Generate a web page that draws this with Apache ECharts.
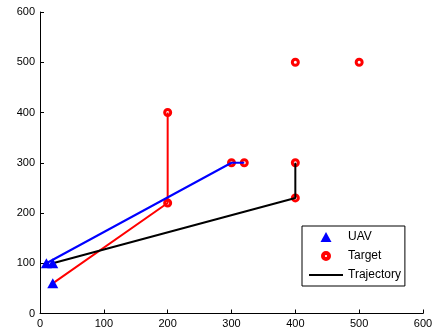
<!DOCTYPE html>
<html><head><meta charset="utf-8">
<script src="https://cdn.jsdelivr.net/npm/echarts@6/dist/echarts.min.js"></script>
<style>html,body{margin:0;padding:0;background:#fff}#c{width:443px;height:335px}</style>
</head><body><div id="c"></div>
<script>
const axisMin = 0, axisMax = 600, axisStep = 100;
const uavX = [10, 20, 20];
const uavY = [100, 100, 60];
const targetX = [200, 200, 300, 320, 400, 400, 400, 500];
const targetY = [400, 220, 300, 300, 300, 230, 500, 500];
const redPathX = [20, 200, 200];
const redPathY = [60, 220, 400];
const bluePathX = [10, 300, 320];
const bluePathY = [100, 300, 300];
const blackPathX = [20, 400, 400];
const blackPathY = [100, 230, 300];
const legendNames = ['UAV', 'Target', 'Trajectory'];

const zip = (xs, ys) => xs.map((x, i) => [x, ys[i]]);
const font = '"Liberation Sans", Arial, Helvetica, sans-serif';

const axisCommon = {
  type: 'value', min: axisMin, max: axisMax, interval: axisStep,
  axisLine: { show: true, onZero: false, lineStyle: { color: '#000', width: 1 } },
  axisTick: { show: true, inside: true, length: 4, lineStyle: { color: '#000' } },
  axisLabel: { color: '#000', fontSize: 11, fontFamily: font, margin: 5 },
  splitLine: { show: false }
};

const ringIcon = 'path://M0.5,5A4.5,4.5,0,1,1,9.5,5A4.5,4.5,0,1,1,0.5,5ZM4,5A1,1,0,1,0,6,5A1,1,0,1,0,4,5Z';
const triIcon = 'path://M5.5,0L11,10L0,10Z';
const lineIcon = 'path://M0,0L34,0L34,2L0,2Z';

const chart = echarts.init(document.getElementById('c'), null, { renderer: 'canvas' });
chart.setOption({
  animation: false,
  backgroundColor: '#fff',
  grid: { left: 40, right: 20, top: 12, bottom: 21.5, containLabel: false },
  xAxis: axisCommon,
  yAxis: axisCommon,
  legend: {
    orient: 'vertical', left: 302, top: 226,
    data: [
      { name: legendNames[0], icon: triIcon, itemStyle: { color: '#0000ff', borderWidth: 0 } },
      { name: legendNames[1], icon: ringIcon, itemStyle: { color: '#ff0000', borderWidth: 0 } },
      { name: legendNames[2], icon: lineIcon, itemStyle: { color: '#000', borderWidth: 0 } }
    ],
    symbolKeepAspect: true,
    backgroundColor: '#fff',
    borderColor: '#000', borderWidth: 1, borderRadius: 0,
    padding: [5, 4, 5, 7],
    itemWidth: 34, itemHeight: 10, itemGap: 7,
    textStyle: { color: '#000', fontSize: 12, fontFamily: font },
    selectedMode: false
  },
  series: [
    {
      name: 'Target', type: 'scatter', z: 2,
      data: zip(targetX, targetY),
      symbol: 'circle', symbolSize: 6,
      itemStyle: { color: '#fff', borderColor: '#ff0000', borderWidth: 3, opacity: 1 }
    },
    {
      name: 'redPath', type: 'line', z: 3, data: zip(redPathX, redPathY),
      showSymbol: false, lineStyle: { color: '#ff0000', width: 2 }, itemStyle: { color: '#ff0000' }
    },
    {
      name: 'bluePath', type: 'line', z: 3, data: zip(bluePathX, bluePathY),
      showSymbol: false, lineStyle: { color: '#0000ff', width: 2 }, itemStyle: { color: '#0000ff' }
    },
    {
      name: 'Trajectory', type: 'line', z: 3, data: zip(blackPathX, blackPathY),
      showSymbol: false, symbol: 'none', lineStyle: { color: '#000', width: 2 }, itemStyle: { color: '#000' }
    },
    {
      name: 'UAV', type: 'scatter', z: 4,
      data: zip(uavX, uavY),
      symbol: 'triangle', symbolSize: [11, 10],
      itemStyle: { color: '#0000ff', opacity: 1 }
    }
  ]
});
</script></body></html>
